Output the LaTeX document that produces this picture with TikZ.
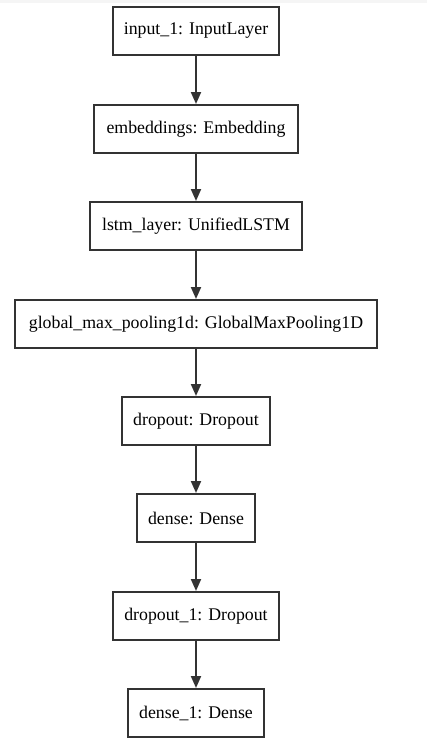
\documentclass[tikz,border=0pt]{standalone}
\usepackage{fontspec}
\setmainfont{Liberation Serif}
\usetikzlibrary{arrows.meta}
\frenchspacing
\begin{document}
\begin{tikzpicture}[x=1pt,y=-1pt,
  layer/.style={draw=black!80, line width=2pt, rectangle, inner xsep=0pt, inner ysep=0pt,
    minimum height=48pt, text width=#1, align=center, font=\fontsize{17.8pt}{20pt}\selectfont\frenchspacing, text=black},
  conn/.style={draw=black!80, line width=2pt, -{Triangle[length=12pt,width=10pt]}}]
\useasboundingbox (0,0) rectangle (427,747);
\fill[black!4] (0,0) rectangle (427,3);
\node[layer=166pt] (n1) at (196,31) {input\_1: InputLayer};
\node[layer=204pt] (n2) at (196,129) {embeddings: Embedding};
\node[layer=212pt] (n3) at (196,226) {lstm\_layer: UnifiedLSTM};
\node[layer=362pt] (n4) at (196,324) {global\_max\_pooling1d: GlobalMaxPooling1D};
\node[layer=148pt] (n5) at (196,421) {dropout: Dropout};
\node[layer=118pt] (n6) at (196,518) {dense: Dense};
\node[layer=166pt] (n7) at (196,616) {dropout\_1: Dropout};
\node[layer=136pt] (n8) at (196,713) {dense\_1: Dense};
\draw[conn] (n1) -- (n2);
\draw[conn] (n2) -- (n3);
\draw[conn] (n3) -- (n4);
\draw[conn] (n4) -- (n5);
\draw[conn] (n5) -- (n6);
\draw[conn] (n6) -- (n7);
\draw[conn] (n7) -- (n8);
\end{tikzpicture}
\end{document}
